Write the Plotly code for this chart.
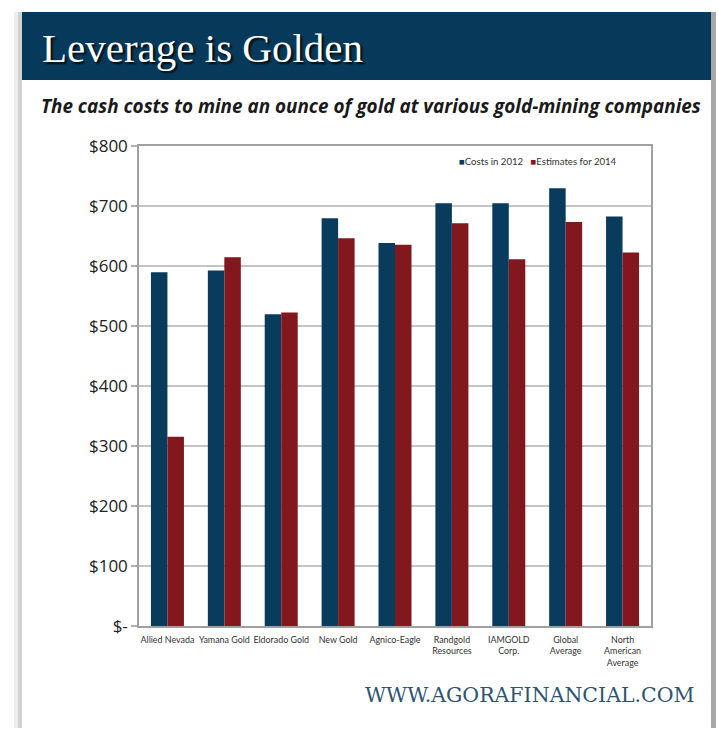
import plotly.graph_objects as go

categories = ["Allied Nevada", "Yamana Gold", "Eldorado Gold", "New Gold", "Agnico-Eagle",
              "Randgold<br>Resources", "IAMGOLD<br>Corp.", "Global<br>Average",
              "North<br>American<br>Average"]
costs_2012 = [590, 593, 520, 680, 639, 705, 705, 730, 683]
estimates_2014 = [316, 615, 523, 647, 636, 672, 612, 674, 623]
y_tickvals = [0, 100, 200, 300, 400, 500, 600, 700, 800]
y_ticktext = ["$-", "$100", "$200", "$300", "$400", "$500", "$600", "$700", "$800"]

W, H = 718, 739
BLUE = "#083b5c"
RED = "#82171d"

# observed rendering: vertical content maps into ~722px starting ~8.5px from top
OFF, HEFF = 8.5, 722.0


def px(x):
    return x / W


def py(y):
    return min(1.0, max(0.0, 1 - (y - OFF) / HEFF))


fig = go.Figure()
fig.add_trace(go.Bar(name="Costs in 2012", x=categories, y=costs_2012, marker_color=BLUE,
                     marker_line_width=0, showlegend=False))
fig.add_trace(go.Bar(name="Estimates for 2014", x=categories, y=estimates_2014, marker_color=RED,
                     marker_line_width=0, showlegend=False))

shapes = [
    dict(type="rect", xref="paper", yref="paper", x0=px(14), x1=px(22), y0=0, y1=py(4),
         fillcolor="#ececec", line_width=0, layer="below"),
    dict(type="rect", xref="paper", yref="paper", x0=px(18), x1=px(22), y0=0, y1=py(6),
         fillcolor="#d2d2d2", line_width=0, layer="below"),
    dict(type="rect", xref="paper", yref="paper", x0=px(711), x1=px(716), y0=0, y1=py(6),
         fillcolor="#a8a8a8", line_width=0, layer="below"),
    dict(type="rect", xref="paper", yref="paper", x0=px(22), x1=px(711), y0=py(8), y1=py(5),
         fillcolor="#dcdcdc", line_width=0, layer="below"),
    dict(type="rect", xref="paper", yref="paper", x0=px(22), x1=px(711), y0=py(77), y1=py(8),
         fillcolor="#073a5a", line_width=0, layer="below"),
]

legend_text = (f"<span style='color:{BLUE}'>■</span>Costs in 2012   "
               f"<span style='color:{RED}'>■</span>Estimates for 2014")

annotations = [
    dict(text="Leverage is Golden", xref="paper", yref="paper", x=px(40), y=py(45),
         xanchor="left", yanchor="middle", showarrow=False,
         font=dict(family="Liberation Serif", size=41, color="#ffffff",
                   shadow="2px 2px 2px rgba(0,0,0,0.85)")),
    dict(text="<b><i>The cash costs to mine an ounce of gold at various gold-mining companies</i></b>",
         xref="paper", yref="paper", x=px(39), y=py(103), xanchor="left", yanchor="middle",
         showarrow=False, font=dict(family="Open Sans", size=18.9, color="#1a1a1a")),
    dict(text="WWW.AGORAFINANCIAL.COM", xref="paper", yref="paper", x=px(697), y=py(697),
         xanchor="right", yanchor="middle", showarrow=False,
         font=dict(family="DejaVu Serif", size=20.5, color="#2e5470")),
    dict(text=legend_text, xref="paper", yref="paper", x=px(619), y=py(159),
         xanchor="right", yanchor="middle", showarrow=False,
         font=dict(family="Lato", size=9.6, color="#333333")),
]

fig.update_layout(
    width=W, height=H,
    margin=dict(l=0, r=0, t=0, b=0),
    paper_bgcolor="#ffffff",
    plot_bgcolor="#ffffff",
    barmode="group",
    bargap=0.42,
    bargroupgap=0,
    shapes=shapes,
    annotations=annotations,
    showlegend=False,
    xaxis=dict(domain=[px(139), px(651)], showline=True, linecolor="#a0a0a0", linewidth=1.5,
               mirror=True, ticks="", tickfont=dict(family="Lato", size=8.9, color="#333333"),
               tickangle=0, fixedrange=True, ticklabelstandoff=4),
    yaxis=dict(domain=[py(628), py(144)], range=[0, 800], tickvals=y_tickvals, ticktext=y_ticktext,
               showgrid=True, gridcolor="#c4c4c4", gridwidth=2, showline=True, linecolor="#a0a0a0",
               linewidth=1.5, mirror=True, ticks="outside", ticklen=6, tickcolor="#b0b0b0",
               tickwidth=2, tickfont=dict(family="Open Sans", size=17, color="#222222"),
               zeroline=False, fixedrange=True),
)

fig.write_html("out.html")
